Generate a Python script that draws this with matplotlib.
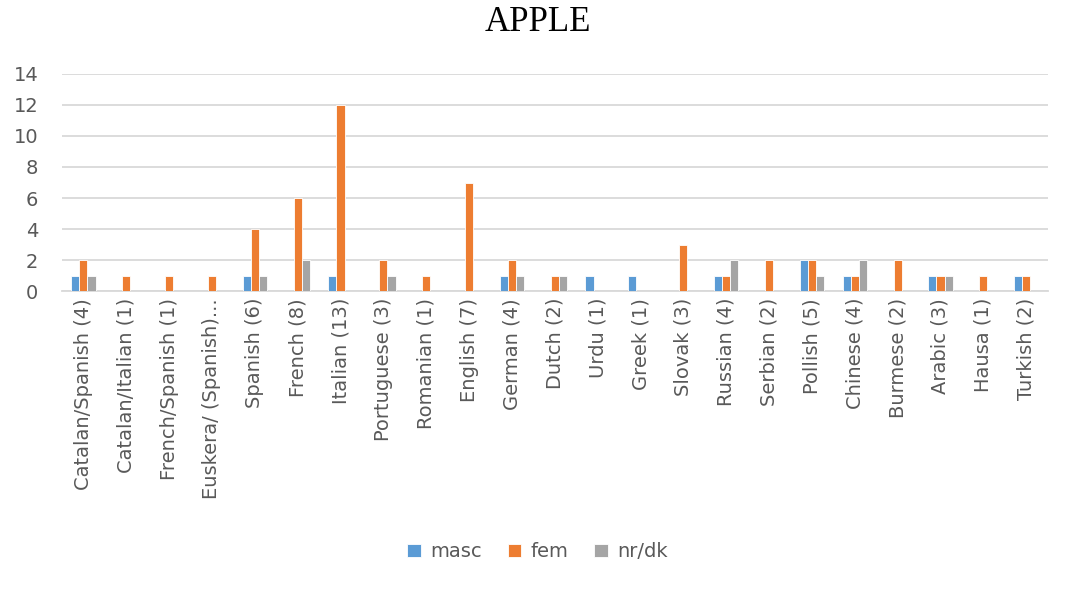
import numpy as np
import matplotlib
matplotlib.use('Agg')
import matplotlib.pyplot as plt

# language groups (n) and counts of gender assigned to "apple"
languages = ['Catalan/Spanish (4)', 'Catalan/Italian (1)', 'French/Spanish (1)',
             'Euskera/ (Spanish)...', 'Spanish (6)', 'French (8)', 'Italian (13)',
             'Portuguese (3)', 'Romanian (1)', 'English (7)', 'German (4)', 'Dutch (2)',
             'Urdu (1)', 'Greek (1)', 'Slovak (3)', 'Russian (4)', 'Serbian (2)',
             'Pollish (5)', 'Chinese (4)', 'Burmese (2)', 'Arabic (3)', 'Hausa (1)',
             'Turkish (2)']
masc = [1, 0, 0, 0, 1, 0, 1, 0, 0, 0, 1, 0, 1, 1, 0, 1, 0, 2, 1, 0, 1, 0, 1]
fem = [2, 1, 1, 1, 4, 6, 12, 2, 1, 7, 2, 1, 0, 0, 3, 1, 2, 2, 1, 2, 1, 1, 1]
nrdk = [1, 0, 0, 0, 1, 2, 0, 1, 0, 0, 1, 1, 0, 0, 0, 2, 0, 1, 2, 0, 1, 0, 0]

series = [('masc', masc, '#5B9BD5'), ('fem', fem, '#ED7D31'), ('nr/dk', nrdk, '#A5A5A5')]

plt.rcParams['font.family'] = ['DejaVu Sans']

fig = plt.figure(figsize=(10.69, 5.91), dpi=100)
ax = fig.add_axes([0.058, 0.5076, 0.922, 0.3672])

x = np.arange(len(languages))
w = 0.19
for i, (name, vals, col) in enumerate(series):
    ax.bar(x + (i - 1) * w, vals, w, color=col, edgecolor='white', linewidth=0.6,
           label=name, zorder=3)

ax.set_xlim(-0.5, len(languages) - 0.5)
ax.set_ylim(0, 14)
ax.set_yticks(range(0, 15, 2))
ax.yaxis.grid(True, color='#D9D9D9', linewidth=1.3, zorder=0)
for s in ['top', 'right', 'left']:
    ax.spines[s].set_visible(False)
ax.spines['bottom'].set_color('#D9D9D9')
ax.spines['bottom'].set_linewidth(1.3)
ax.tick_params(axis='both', length=0, colors='#595959')
ax.tick_params(axis='y', labelsize=14, pad=17)
ax.tick_params(axis='x', pad=5)
ax.set_xticks(x)
ax.set_xticklabels(languages, rotation=90, fontsize=14)

fig.text(0.503, 0.962, 'APPLE', ha='center', va='center', fontsize=25,
         family='Liberation Serif', color='black')

fig.legend(loc='center', bbox_to_anchor=(0.503, 0.066), ncol=3, frameon=False,
           fontsize=14, handlelength=0.7, handleheight=0.7, handletextpad=0.5,
           columnspacing=1.3, labelcolor='#595959')

fig.savefig('out.png', dpi=100)
